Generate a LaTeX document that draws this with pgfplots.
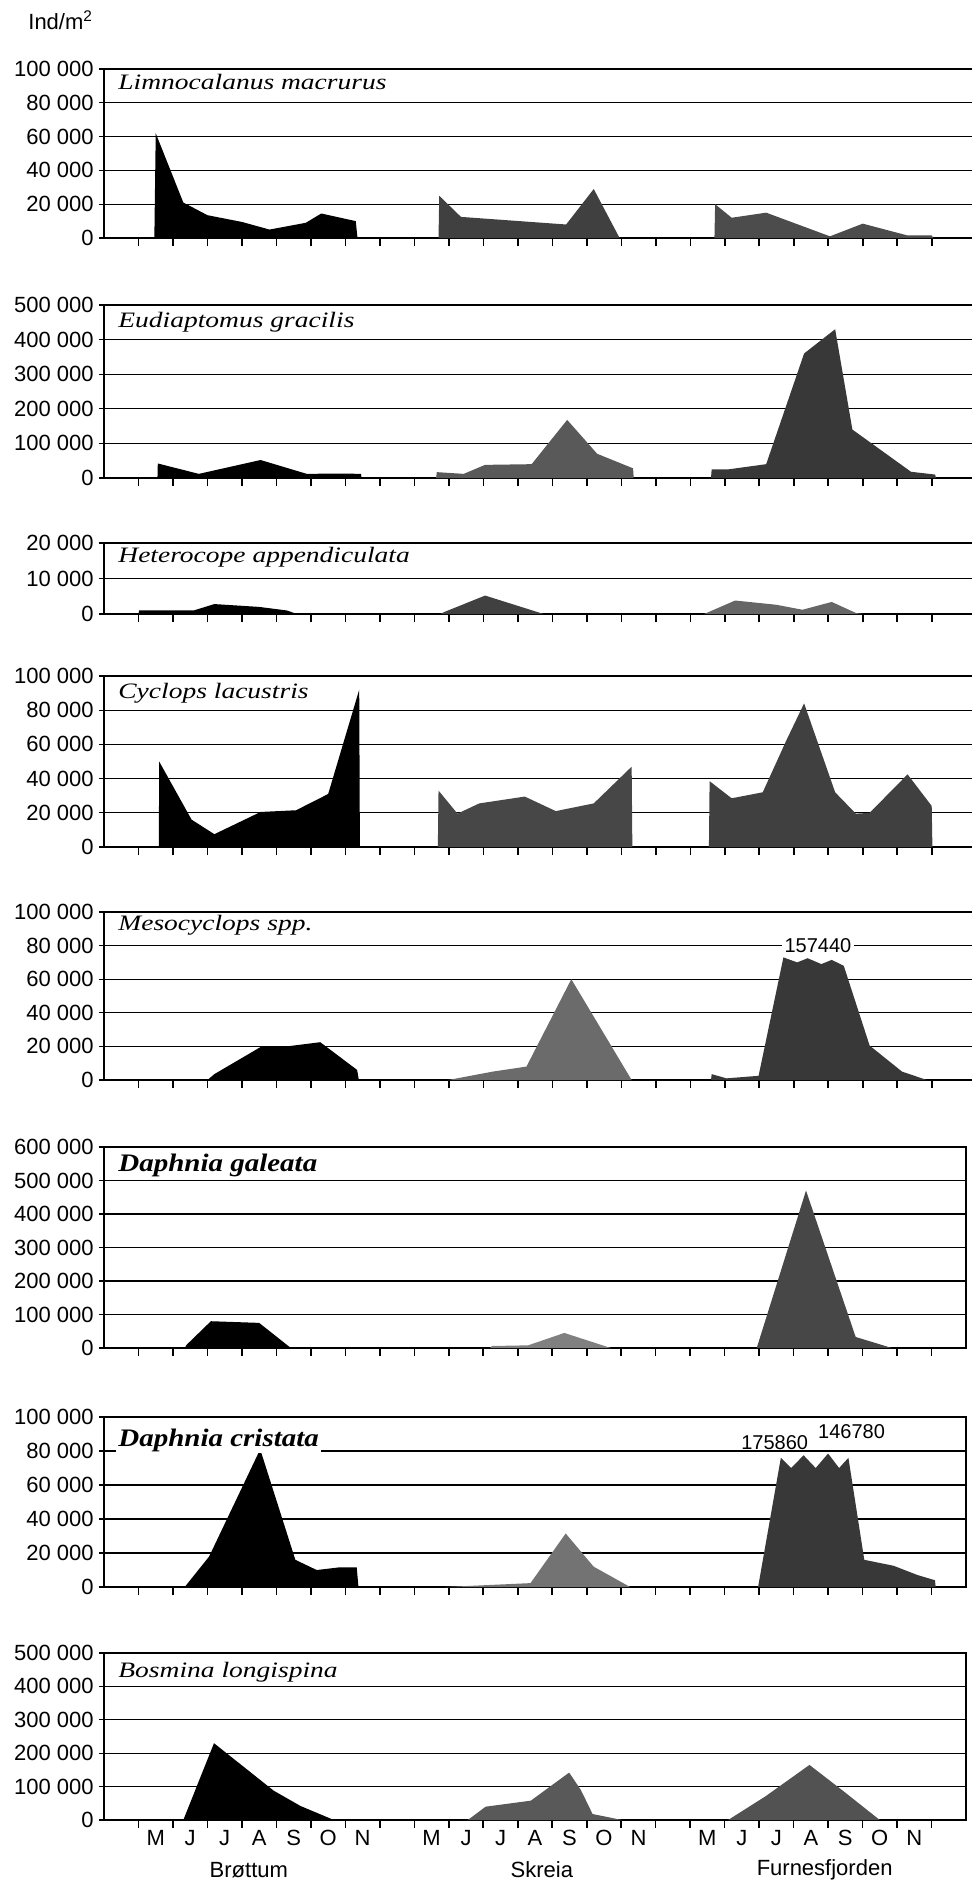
\documentclass[border=0pt]{standalone}
\usepackage{fontspec}
\setmainfont{Liberation Sans}
\newfontfamily\spA[FakeStretch=1.25]{Liberation Serif}
\newfontfamily\spB[FakeStretch=1.15]{Liberation Serif}
\usepackage{pgfplots}
\pgfplotsset{compat=1.18}
\pgfplotsset{
  panel/.style={
    scale only axis, xmin=-1, ymin=0,
    xtick={0,...,23}, xticklabels={},
    xtick pos=bottom, ytick pos=left,
    tick align=outside,
    major tick length=4pt,
    ytick style={/pgfplots/major tick length=2.5pt, line width=0.6pt, black},
    xtick style={line width=0.8pt, black},
    ymajorgrids, grid style={line width=0.6pt, black},
    axis line style={line width=1pt},
    scaled y ticks=false,
    yticklabel style={font=\fontsize{11}{12}\selectfont, inner xsep=1pt},
    clip mode=individual,
  },
  wide/.style={width=438pt, xmax=24.4},
  boxed/.style={width=431pt, xmax=24},
}
\tikzset{
  spname/.style={anchor=west, xshift=6pt, font=\spA\itshape\fontsize{11}{13}\selectfont, inner sep=1pt},
  spnameB/.style={anchor=west, xshift=6pt, font=\spB\bfseries\itshape\fontsize{12.6}{14}\selectfont, inner sep=1pt},
}
\colorlet{brot}{black}
\begin{document}
\begin{tikzpicture}
\useasboundingbox (0,0) rectangle (485.5pt,-943.5pt);
\node[anchor=west, font=\fontsize{11}{12}\selectfont, inner sep=0pt] at (14pt,-10pt) {Ind/m\textsuperscript{2}};

% Panel 1: Limnocalanus macrurus
\begin{axis}[panel, wide, at={(52pt,-34.5pt)}, anchor=north west, height=84.5pt,
  ymax=100000, ytick={0,20000,40000,60000,80000,100000},
  yticklabels={0,20 000,40 000,60 000,80 000,100 000}]
\addplot[fill=brot, draw=none] coordinates {(0.46,0) (0.5,62000) (1.3,21000) (2.0,13500) (3.0,9500) (3.8,5000) (4.85,9000) (5.3,14500) (6.3,10000) (6.35,0)} \closedcycle;
\addplot[fill=black!75, draw=none] coordinates {(8.7,0) (8.72,25000) (9.35,12500) (12.4,8000) (13.2,29000) (13.95,0)} \closedcycle;
\addplot[fill=black!70, draw=none] coordinates {(16.7,0) (16.72,20000) (17.2,12000) (18.2,15000) (20.05,1000) (21.0,8500) (22.3,1500) (23.0,1500) (23.05,0)} \closedcycle;
\node[spname, yshift=-6.5pt] at (rel axis cs:0,1) {Limnocalanus macrurus};
\end{axis}

% Panel 2: Eudiaptomus gracilis
\begin{axis}[panel, wide, at={(52pt,-152.5pt)}, anchor=north west, height=86.5pt,
  ymax=500000, ytick={0,100000,200000,300000,400000,500000},
  yticklabels={0,100 000,200 000,300 000,400 000,500 000}]
\addplot[fill=brot, draw=none] coordinates {(0.55,0) (0.56,42000) (1.75,12000) (3.54,52000) (4.88,12000) (5.86,13000) (6.45,12000) (6.47,0)} \closedcycle;
\addplot[fill=black!65, draw=none] coordinates {(8.63,0) (8.65,17000) (9.43,12000) (10.05,38000) (11.4,40000) (12.43,168000) (13.3,70000) (14.34,28000) (14.36,0)} \closedcycle;
\addplot[fill=black!78, draw=none] coordinates {(16.6,0) (16.62,25000) (17.1,25000) (18.2,40000) (19.3,360000) (20.2,430000) (20.7,140000) (22.4,18000) (23.1,10000) (23.12,0)} \closedcycle;
\node[spname, yshift=-8.5pt] at (rel axis cs:0,1) {Eudiaptomus gracilis};
\end{axis}

% Panel 3: Heterocope appendiculata
\begin{axis}[panel, wide, at={(52pt,-271.5pt)}, anchor=north west, height=35.5pt,
  ymax=20000, ytick={0,10000,20000},
  yticklabels={0,10 000,20 000}]
\addplot[fill=brot, draw=none] coordinates {(0,0) (0.02,1000) (1.6,1000) (2.2,2800) (3.5,2000) (4.3,1000) (4.6,0)} \closedcycle;
\addplot[fill=black!75, draw=none] coordinates {(8.75,0) (8.9,700) (10.05,5200) (11.75,0)} \closedcycle;
\addplot[fill=black!60, draw=none] coordinates {(16.4,0) (17.3,3800) (18.5,2600) (19.25,1200) (20.1,3400) (20.8,300) (21.0,0)} \closedcycle;
\node[spname, yshift=-7pt] at (rel axis cs:0,1) {Heterocope appendiculata};
\end{axis}

% Panel 4: Cyclops lacustris
\begin{axis}[panel, wide, at={(52pt,-338pt)}, anchor=north west, height=85.5pt,
  ymax=100000, ytick={0,20000,40000,60000,80000,100000},
  yticklabels={0,20 000,40 000,60 000,80 000,100 000}]
\addplot[fill=brot, draw=none] coordinates {(0.59,0) (0.6,50000) (1.54,16000) (2.2,7500) (2.82,13500) (3.54,20500) (4.57,21500) (5.5,31000) (6.4,92000) (6.42,0)} \closedcycle;
\addplot[fill=black!72, draw=none] coordinates {(8.68,0) (8.7,33000) (9.25,19500) (9.88,25500) (11.2,29500) (12.1,21000) (13.2,25500) (14.3,47000) (14.32,0)} \closedcycle;
\addplot[fill=black!75, draw=none] coordinates {(16.54,0) (16.56,38500) (17.2,28500) (18.1,32000) (18.8,63000) (19.3,84000) (20.2,32000) (20.8,19500) (21.2,20000) (22.3,42500) (23.0,24000) (23.02,0)} \closedcycle;
\node[spname, yshift=-8.5pt] at (rel axis cs:0,1) {Cyclops lacustris};
\end{axis}

% Panel 5: Mesocyclops spp.
\begin{axis}[panel, wide, at={(52pt,-456pt)}, anchor=north west, height=84pt,
  ymax=100000, ytick={0,20000,40000,60000,80000,100000},
  yticklabels={0,20 000,40 000,60 000,80 000,100 000}]
\addplot[fill=brot, draw=none] coordinates {(2.0,0) (2.2,3500) (3.57,20000) (4.29,20000) (5.27,22500) (6.34,6000) (6.39,0)} \closedcycle;
\addplot[fill=black!58, draw=none] coordinates {(8.98,0) (10.27,5000) (11.25,8000) (12.55,60000) (14.3,0)} \closedcycle;
\addplot[fill=black!78, draw=none] coordinates {(16.6,0) (16.62,3500) (17.05,1000) (17.98,2500) (18.7,73000) (19.1,70000) (19.4,72500) (19.8,69000) (20.1,71500) (20.45,68000) (21.2,20500) (22.14,5000) (22.86,0)} \closedcycle;
\node[spname, yshift=-6.5pt] at (rel axis cs:0,1) {Mesocyclops spp.};
\node[fill=white, inner sep=1.5pt, font=\fontsize{10}{11}\selectfont] at (axis cs:19.7,80000) {157440};
\end{axis}

% Panel 6: Daphnia galeata
\begin{axis}[panel, boxed, at={(52pt,-573.5pt)}, anchor=north west, height=100.5pt,
  ymax=600000, ytick={0,100000,200000,300000,400000,500000,600000},
  yticklabels={0,100 000,200 000,300 000,400 000,500 000,600 000}]
\addplot[fill=brot, draw=none] coordinates {(1.34,0) (1.4,10000) (2.1,80000) (3.5,75000) (4.42,0)} \closedcycle;
\addplot[fill=black!50, draw=none] coordinates {(10.2,0) (10.25,6000) (11.3,8000) (12.35,45000) (13.7,0)} \closedcycle;
\addplot[fill=black!72, draw=none] coordinates {(17.93,0) (19.36,470000) (20.8,33000) (21.85,0)} \closedcycle;
\node[spnameB, yshift=-9pt] at (rel axis cs:0,1) {Daphnia galeata};
\end{axis}

% Panel 7: Daphnia cristata
\begin{axis}[panel, boxed, at={(52pt,-708.5pt)}, anchor=north west, height=85pt,
  ymax=100000, ytick={0,20000,40000,60000,80000,100000},
  yticklabels={0,20 000,40 000,60 000,80 000,100 000}]
\addplot[fill=brot, draw=none] coordinates {(1.34,0) (2.05,18000) (3.53,81000) (4.55,16000) (5.17,10000) (5.8,11500) (6.33,11500) (6.38,0)} \closedcycle;
\addplot[fill=black!55, draw=none] coordinates {(8.9,0) (11.37,2300) (12.39,31500) (13.2,12000) (14.26,0)} \closedcycle;
\addplot[fill=black!78, draw=none] coordinates {(17.97,0) (18.63,76000) (18.93,70000) (19.29,77500) (19.64,70000) (20.0,78500) (20.32,70000) (20.59,76000) (21.05,16000) (21.9,12500) (22.6,7000) (23.1,4000) (23.12,0)} \closedcycle;
\node[spnameB, fill=white, yshift=-11.5pt] at (rel axis cs:0,1) {Daphnia cristata};
\node[inner sep=1pt, font=\fontsize{10}{11}\selectfont] at (axis cs:18.45,85000) {175860};
\node[inner sep=1pt, font=\fontsize{10}{11}\selectfont] at (axis cs:20.68,91500) {146780};
\end{axis}

% Panel 8: Bosmina longispina
\begin{axis}[panel, boxed, at={(52pt,-826.5pt)}, anchor=north west, height=83.5pt,
  ymax=500000, ytick={0,100000,200000,300000,400000,500000},
  yticklabels={0,100 000,200 000,300 000,400 000,500 000},
  extra x ticks={0.5,1.5,2.5,3.5,4.5,5.5,6.5,8.5,9.5,10.5,11.5,12.5,13.5,14.5,16.5,17.5,18.5,19.5,20.5,21.5,22.5},
  extra x tick labels={M,J,J,A,S,O,N,M,J,J,A,S,O,N,M,J,J,A,S,O,N},
  extra x tick style={major tick length=0pt, xticklabel style={font=\fontsize{11}{12}\selectfont, yshift=-1.5pt}}]
\addplot[fill=brot, draw=none] coordinates {(1.3,0) (2.19,230000) (3.92,88000) (4.7,42000) (5.6,3000) (5.7,0)} \closedcycle;
\addplot[fill=black!65, draw=none] coordinates {(9.55,0) (10.07,40000) (11.38,58000) (12.49,142000) (12.83,90000) (13.17,18000) (14.03,0)} \closedcycle;
\addplot[fill=black!68, draw=none] coordinates {(17.1,0) (18.2,72000) (19.46,165000) (20.5,82000) (21.5,0)} \closedcycle;
\node[spname, yshift=-9.5pt] at (rel axis cs:0,1) {Bosmina longispina};
\node[font=\fontsize{11}{12}\selectfont, yshift=-25pt] at (axis cs:3.2,0) {Brøttum};
\node[font=\fontsize{11}{12}\selectfont, yshift=-25pt] at (axis cs:11.7,0) {Skreia};
\node[font=\fontsize{11}{12}\selectfont, yshift=-25pt] at (axis cs:19.9,0) {Furnesfjorden};
\end{axis}
\end{tikzpicture}
\end{document}
